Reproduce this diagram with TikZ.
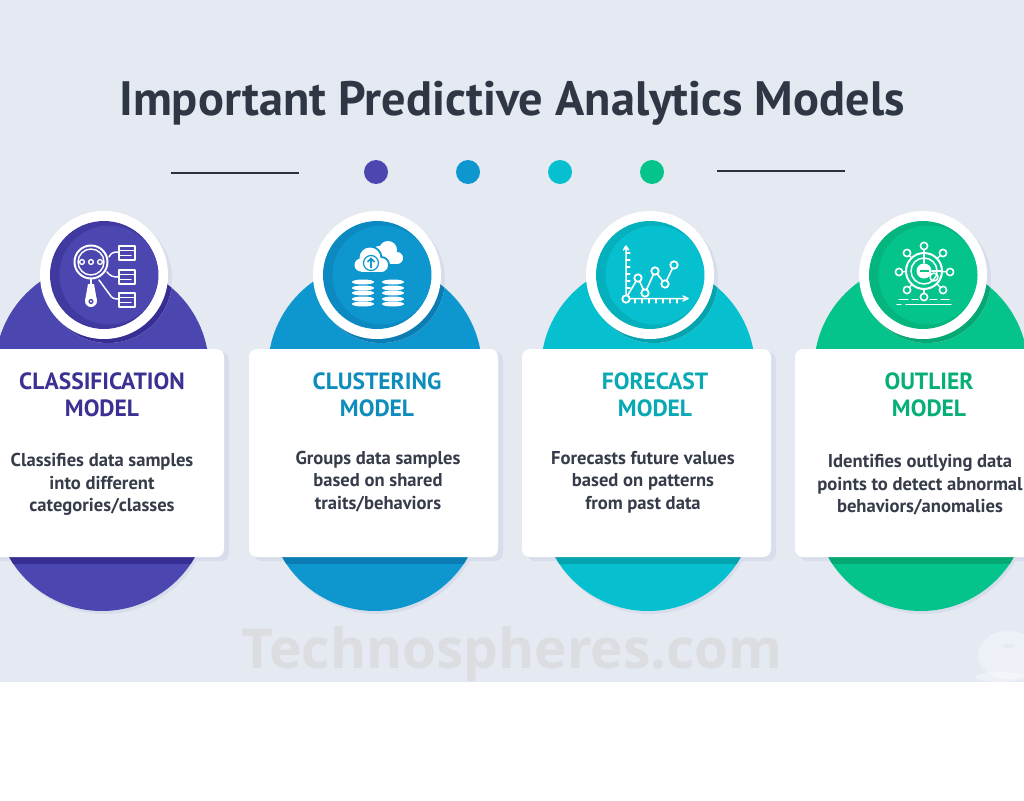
\documentclass[tikz,border=0pt]{standalone}
\usepackage{fontspec}
\setmainfont{PT Sans}
\newfontfamily\markfont{Open Sans}
\definecolor{bgc}{HTML}{E4E9F2}
\definecolor{shc}{HTML}{D8DDEB}
\definecolor{inkc}{HTML}{2F3644}
\definecolor{bodyc}{HTML}{363C4A}
\definecolor{lineC}{HTML}{2B3140}
\definecolor{markc}{HTML}{DBDDE1}
\definecolor{pA}{HTML}{4B46B0}\definecolor{dA}{HTML}{372E93}\definecolor{tA}{HTML}{3A3192}
\definecolor{pB}{HTML}{0E97CF}\definecolor{dB}{HTML}{0B7DB4}\definecolor{tB}{HTML}{0E8CBC}
\definecolor{pC}{HTML}{06C0CF}\definecolor{dC}{HTML}{05A3AE}\definecolor{tC}{HTML}{08A8B4}
\definecolor{pD}{HTML}{04C48C}\definecolor{dD}{HTML}{05A873}\definecolor{tD}{HTML}{06AE78}
\tikzset{
  dotn/.style={circle,inner sep=0pt,minimum size=24pt},
  cardbox/.style={fill=white,rounded corners=8pt},
  headt/.style={font=\fontsize{23.5}{27}\selectfont\bfseries,align=center,anchor=center,inner sep=0pt},
  bodyt/.style={font=\fontsize{18.6}{22.5}\selectfont\bfseries,text=bodyc,align=center,anchor=center,inner sep=0pt},
  ico/.style={draw=white,line width=2pt,line cap=round,line join=round},
  icf/.style={fill=white,draw=none}
}
% #1 dome centre x, #2 ring centre x, #3 main colour, #4 dark colour, #5 card left, #6 card right, #7 id
\newcommand{\modelshape}[7]{
  \fill[shc] (#1+2,507) circle[radius=107];
  \fill[#3] (#1,504) circle[radius=107];
  \fill[#3] (#1,369) circle[radius=107];
  \fill[shc,rounded corners=8pt] (#5+5,352) rectangle (#6+5,561);
  \begin{scope}
    \clip (#1-120,555) rectangle (#1+120,563);
    \fill[#4] (#1,504) circle[radius=107];
  \end{scope}
  \path[cardbox] (#5,349) rectangle (#6,557);
  \fill[shc] (#2+4,279) circle[radius=64];
  \begin{scope}
    \clip (#1,369) circle[radius=107];
    \fill[#4] (#2+4,279) circle[radius=64];
  \end{scope}
  \fill[white] (#2,275) circle[radius=64] coordinate (ring#7);
  \fill[#4!55!#3] (#2,275) circle[radius=54];
  \fill[#3] (#2+5,275) circle[radius=49.5];
}
\begin{document}
\begin{tikzpicture}[x=1pt,y=-1pt]
\path[use as bounding box,clip] (0,0) rectangle (1024,800);
\fill[white] (0,0) rectangle (1024,800);
\fill[bgc] (0,0) rectangle (1024,682);

\node[font=\fontsize{48.3}{50}\selectfont\bfseries,text=inkc,inner sep=0pt] (title) at (512,103) {Important Predictive Analytics Models};

\coordinate (la) at (171,173); \coordinate (lb) at (299,173);
\coordinate (lc) at (717,171); \coordinate (ld) at (845,171);
\draw[lineC,line width=1.4pt] (la) -- (lb);
\draw[lineC,line width=1.4pt] (lc) -- (ld);
\node[dotn,fill=pA] (d1) at (376,172) {};
\node[dotn,fill=pB] (d2) at (468,172) {};
\node[dotn,fill=pC] (d3) at (560,172) {};
\node[dotn,fill=pD] (d4) at (652,172) {};

\modelshape{102}{104}{pA}{dA}{-20}{224}{A}
\modelshape{375}{377}{pB}{dB}{249}{498}{B}
\modelshape{648}{650}{pC}{dC}{522}{771}{C}
\modelshape{921}{923}{pD}{dD}{795}{1040}{D}

% magnifier icon
\draw[ico] (91,262) circle[radius=16.5];
\draw[ico,line width=1.4pt] (91,262) circle[radius=13];
\foreach \x in {82,91,100} \draw[ico,line width=1.4pt] (\x,262) circle[radius=2.4];
\draw[ico,line width=2.2pt] (91,279) -- (91,284);
\fill[white] (88,284) -- (85,301) -- (97,301) -- (94,284) -- cycle;
\fill[white] (91,301) circle[radius=6];
\fill[pA] (91,301.5) circle[radius=2.6];
\fill[white] (91,301.5) circle[radius=1.1];
\foreach \y in {246,270,293} {
  \draw[ico] (119,\y) rectangle (135,\y+14);
  \draw[ico,line width=1.5pt] (119,\y+4.5) -- (135,\y+4.5);
  \draw[ico,line width=1.5pt] (119,\y+9.5) -- (131,\y+9.5);
}
\draw[ico,line width=1.5pt] (109,257) .. controls (111,253) and (113,252) .. (118,252);
\draw[ico,line width=1.5pt] (107,272) .. controls (110,276) and (113,277) .. (118,277);
\draw[ico,line width=1.5pt] (99,280) -- (110,295) .. controls (112,298) and (114,299) .. (118,299);

% cloud icon
\fill[white] (388,250) circle[radius=9];
\fill[white] (379,253) circle[radius=7];
\fill[white] (397,258) circle[radius=6];
\fill[white] (380,255) rectangle (398,264);
\fill[pB] (370,258) circle[radius=12.5];
\fill[pB] (361,265) circle[radius=8.5];
\fill[pB] (381,265) circle[radius=9];
\fill[white] (370,258) circle[radius=10.5];
\fill[white] (361,265) circle[radius=6.5];
\fill[white] (381,265) circle[radius=7];
\fill[white] (361,262) rectangle (381,272);
\draw[pB,line width=1.2pt] (371,263) circle[radius=7.5];
\draw[pB,line width=1.6pt] (371,268) -- (371,259) (367.5,262) -- (371,258.5) -- (374.5,262);
\foreach \x in {363,393} \foreach \y in {282,288,293,299,304}
  \fill[white] (\x,\y) ellipse[x radius=11,y radius=2.5];

% chart icon
\draw[ico,line width=1.5pt] (626,298) -- (626,247) (623.5,250) -- (626,246) -- (628.5,250);
\draw[ico,line width=1.5pt] (626,298.5) -- (687,298.5) (683,296) -- (688,298.5) -- (683,301);
\foreach \y in {253,260,267,274,281,288} \draw[ico,line width=1.2pt] (626,\y) -- (630,\y);
\foreach \x in {635,642,649,656,663,670,677} \draw[ico,line width=1.2pt] (\x,298.5) -- (\x,303);
\draw[ico,line width=1.6pt] (626,298) -- (638,278) -- (645,293) -- (655,271) -- (665,284) -- (674,265);
\foreach \x/\y in {626/299,638/278,645/293,655/271,665/284,674/265}
  \draw[ico,line width=1.8pt,fill=pC] (\x,\y) circle[radius=3.7];

% outlier icon
\foreach \x/\y in {924/246,907/253,943/253,899/272,950/272,907/290,943/290,924/297}
  {\draw[ico,line width=1.3pt] (924,271) -- (\x,\y);
   \draw[ico,line width=1.6pt,fill=pD] (\x,\y) circle[radius=3.6];}
\draw[ico,line width=2pt,fill=pD] (924,271) circle[radius=18];
\draw[ico,line width=1.5pt] (924,271) circle[radius=13];
\fill[white] (924,271) circle[radius=7.5];
\fill[pD] (919.5,270) rectangle (928.5,272);
\draw[ico,line width=1.5pt] (924,254) -- (924,263) (932,271) -- (941,271);
\draw[ico,line width=1.5pt] (934,277) circle[radius=4];
\draw[ico,line width=1.3pt] (899,299.5) -- (908,299.5) (912,299.5) -- (918,299.5) (930,299.5) -- (937,299.5) (941,299.5) -- (949,299.5);
\draw[ico,line width=1.3pt] (897,304.5) -- (901,304.5) (906,304.5) -- (951,304.5);

% texts
\node[headt,text=tA] (hA) at (102,394.5) {CLASSIFICATION\\MODEL};
\node[bodyt] (bA) at (102,484.5) {Classifies data samples\\into different\\categories/classes};
\node[headt,text=tB] (hB) at (377,394.5) {CLUSTERING\\MODEL};
\node[bodyt] (bB) at (378,481.5) {Groups data samples\\based on shared\\traits/behaviors};
\node[headt,text=tC] (hC) at (655,394.5) {FORECAST\\MODEL};
\node[bodyt] (bC) at (643,482) {Forecasts future values\\based on patterns\\from past data};
\node[headt,text=tD] (hD) at (929,395) {OUTLIER\\MODEL};
\node[bodyt] (bD) at (920,485) {Identifies outlying data\\points to detect abnormal\\behaviors/anomalies};

% watermark
\node[font=\markfont\fontsize{55}{60}\selectfont\bfseries,text=markc,inner sep=0pt] (mark) at (512,654) {Technospheres.com};
\fill[white,opacity=.35] (1008,655) ellipse[x radius=30,y radius=24];
\fill[bgc] (1009,646) ellipse[x radius=6,y radius=2];
\fill[white,opacity=.35] (1000,677) ellipse[x radius=25,y radius=5];
\end{tikzpicture}
\end{document}
